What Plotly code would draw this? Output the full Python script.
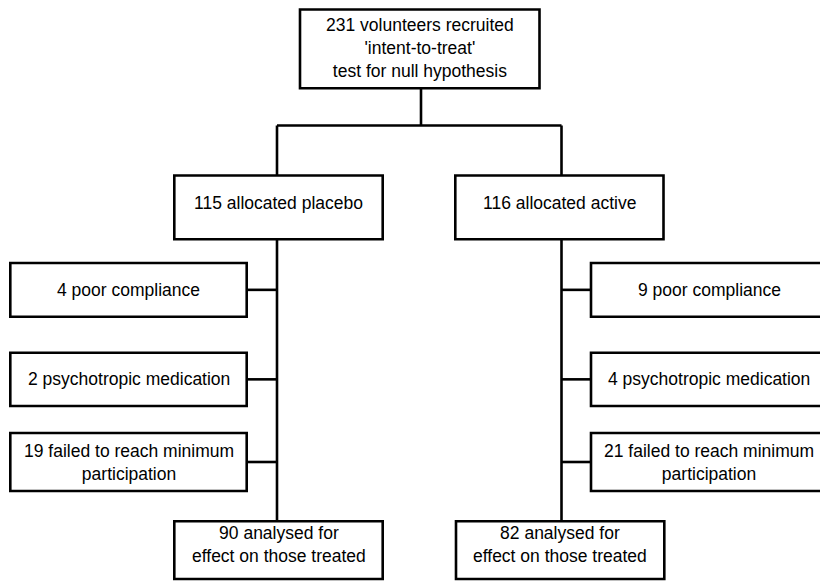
import plotly.graph_objects as go

# ---- data (text content of the flowchart) ----
recruited = 231
top_lines = [f"{recruited} volunteers recruited", "'intent-to-treat'", "test for null hypothesis"]
arm_names = ["placebo", "active"]
allocated = [115, 116]
reasons = [["poor compliance"], ["psychotropic medication"], ["failed to reach minimum", "participation"]]
placebo_excluded = [4, 2, 19]
active_excluded = [9, 4, 21]
analysed = [90, 82]
analysed_tail = ["analysed for", "effect on those treated"]

# ---- layout constants (pixel geometry of the diagram) ----
W, H = 820, 581
FONT = dict(family="Arial, Liberation Sans, sans-serif", size=17.5, color="black")
LW = 2.6

top_box = (300, 9.5, 539.5, 88.3)
split_y = 125.5
trunk_x = [277, 561.5]
alloc_box_x = [(174.3, 382.7), (455.3, 663.5)]
alloc_box_y = (175.5, 239.3)
alloc_text_dy = -4.5
side_box_x = [(10.3, 246.7), (591, 827)]
side_box_y = [(263, 316.7), (352.7, 406), (433, 491)]
bottom_box_x = [(174.3, 382.7), (456, 664.3)]
bottom_box_y = (521.3, 579)
bottom_text_dy = -5.5

fig = go.Figure()
shapes = []
annotations = []


def rect(x0, y0, x1, y1):
    shapes.append(dict(type="rect", xref="x", yref="y", x0=x0, y0=y0, x1=x1, y1=y1,
                       line=dict(color="black", width=LW), fillcolor="white", layer="above"))


def seg(x0, y0, x1, y1):
    shapes.append(dict(type="line", xref="x", yref="y", x0=x0, y0=y0, x1=x1, y1=y1,
                       line=dict(color="black", width=LW), layer="below"))


def text_block(lines, cx, cy):
    annotations.append(dict(x=cx, y=cy, xref="x", yref="y", text="<br>".join(lines),
                            showarrow=False, xanchor="center", yanchor="middle",
                            align="center", font=FONT))


# top box
rect(*top_box)
cx_top = (top_box[0] + top_box[2]) / 2
text_block(top_lines, cx_top, (top_box[1] + top_box[3]) / 2 - 1)
seg(421, top_box[3], 421, split_y)
seg(trunk_x[0], split_y, trunk_x[1], split_y)

excluded = [placebo_excluded, active_excluded]
for a in range(2):
    tx = trunk_x[a]
    seg(tx, split_y, tx, bottom_box_y[0])
    # allocation box
    bx0, bx1 = alloc_box_x[a]
    rect(bx0, alloc_box_y[0], bx1, alloc_box_y[1])
    text_block([f"{allocated[a]} allocated {arm_names[a]}"], (bx0 + bx1) / 2,
               (alloc_box_y[0] + alloc_box_y[1]) / 2 + alloc_text_dy)
    # exclusion boxes
    sx0, sx1 = side_box_x[a]
    for k, (y0, y1) in enumerate(side_box_y):
        rect(sx0, y0, sx1, y1)
        cy = (y0 + y1) / 2
        if a == 0:
            seg(sx1, cy, tx, cy)
        else:
            seg(tx, cy, sx0, cy)
        lines = [f"{excluded[a][k]} {reasons[k][0]}"] + reasons[k][1:]
        text_block(lines, (sx0 + sx1) / 2, cy)
    # analysed box
    ax0, ax1 = bottom_box_x[a]
    rect(ax0, bottom_box_y[0], ax1, bottom_box_y[1])
    text_block([f"{analysed[a]} {analysed_tail[0]}", analysed_tail[1]], (ax0 + ax1) / 2,
               (bottom_box_y[0] + bottom_box_y[1]) / 2 + bottom_text_dy)

fig.update_layout(
    width=W, height=H,
    margin=dict(l=0, r=0, t=0, b=0),
    paper_bgcolor="white", plot_bgcolor="white",
    xaxis=dict(range=[0, W], visible=False, fixedrange=True),
    yaxis=dict(range=[H, 0], visible=False, fixedrange=True),
    shapes=shapes, annotations=annotations, showlegend=False,
)

fig.write_html("out.html", config={"displayModeBar": False},
               post_script="document.body.style.margin='0';document.body.style.overflow='hidden';")
